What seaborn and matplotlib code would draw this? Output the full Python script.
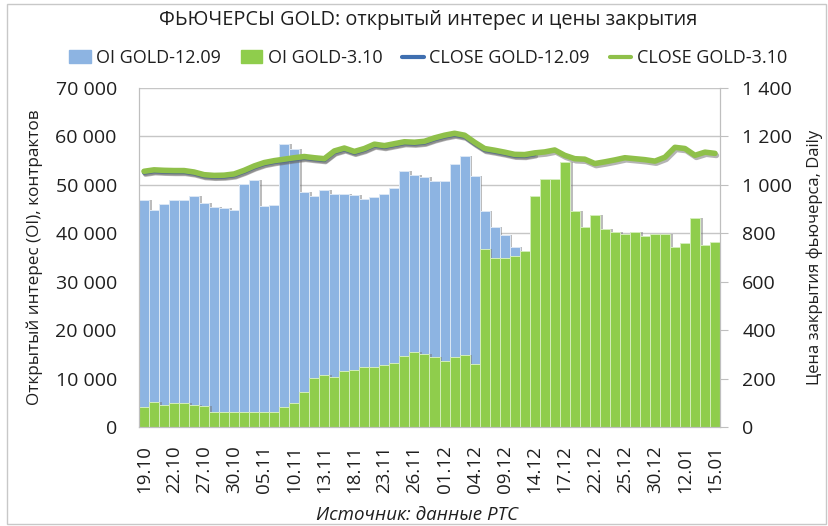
import numpy as np
import pandas as pd
import matplotlib
matplotlib.use("Agg")
import matplotlib.pyplot as plt
import matplotlib.patheffects as pe
from matplotlib.patches import Rectangle
from matplotlib.ticker import FuncFormatter, MultipleLocator
import seaborn as sns

# trading days shown on the x axis
dates = [
    "19.10", "20.10", "21.10", "22.10", "23.10", "26.10", "27.10", "28.10", "29.10", "30.10",
    "02.11", "03.11", "05.11", "06.11", "09.11", "10.11", "11.11", "12.11", "13.11", "16.11",
    "17.11", "18.11", "19.11", "20.11", "23.11", "24.11", "25.11", "26.11", "27.11", "30.11",
    "01.12", "02.12", "03.12", "04.12", "07.12", "08.12", "09.12", "10.12", "11.12", "14.12",
    "15.12", "16.12", "17.12", "18.12", "21.12", "22.12", "23.12", "24.12", "25.12", "28.12",
    "29.12", "30.12", "31.12", "11.01", "12.01", "13.01", "14.01", "15.01",
]

# open interest, contracts
oi_1209 = [
    46900, 44800, 46100, 46900, 46800, 47700, 46200, 45400, 45200, 44800,
    50100, 50900, 45700, 45900, 58500, 57400, 48600, 47800, 49000, 48100,
    48100, 48000, 47000, 47400, 48100, 49400, 52800, 52100, 51600, 50700,
    50700, 54300, 56000, 51900, 44700, 41300, 39700, 37100, np.nan, np.nan,
    np.nan, np.nan, np.nan, np.nan, np.nan, np.nan, np.nan, np.nan, np.nan, np.nan,
    np.nan, np.nan, np.nan, np.nan, np.nan, np.nan, np.nan, np.nan,
]
oi_310 = [
    4100, 5200, 4500, 5000, 5000, 4500, 4300, 3000, 3000, 3000,
    3200, 3200, 3200, 3200, 4100, 5000, 7200, 10100, 10700, 10300,
    11600, 11700, 12400, 12300, 12700, 13200, 14600, 15500, 15100, 14400,
    13600, 14400, 14800, 13100, 36800, 34900, 34900, 35300, 36400, 47600,
    51200, 51200, 54800, 44600, 41300, 43700, 40900, 40200, 39900, 40200,
    39500, 39900, 39900, 37100, 38000, 43200, 37500, 38200,
]

# daily close prices
close_1209 = [
    1050, 1056, 1054, 1053, 1053, 1047, 1036, 1033, 1034, 1039,
    1054, 1072, 1086, 1094, 1100, 1106, 1111, 1106, 1102, 1134,
    1146, 1132, 1144, 1162, 1156, 1164, 1172, 1170, 1174, 1188,
    1199, 1207, 1199, 1170, 1144, 1137, 1129, 1120, 1119, 1126,
    np.nan, np.nan, np.nan, np.nan, np.nan, np.nan, np.nan, np.nan, np.nan, np.nan,
    np.nan, np.nan, np.nan, np.nan, np.nan, np.nan, np.nan, np.nan,
]
close_310 = [
    1056, 1062, 1060, 1059, 1059, 1053, 1042, 1039, 1040, 1045,
    1060, 1078, 1092, 1100, 1106, 1112, 1117, 1112, 1108, 1140,
    1152, 1138, 1150, 1168, 1162, 1170, 1178, 1176, 1180, 1194,
    1205, 1213, 1205, 1176, 1150, 1143, 1135, 1126, 1125, 1132,
    1136, 1144, 1122, 1108, 1106, 1088, 1095, 1103, 1112, 1108,
    1104, 1098, 1114, 1155, 1150, 1122, 1135, 1130,
]

df = pd.DataFrame({
    "pos": np.arange(len(dates)),
    "date": dates,
    "oi_1209": oi_1209,
    "oi_310": oi_310,
    "close_1209": close_1209,
    "close_310": close_310,
})

sns.set_style("white")
plt.rcParams["font.family"] = ["Open Sans", "DejaVu Sans"]
text_color = "#1f1f1f"

W, H = 829, 526
fig = plt.figure(figsize=(W / 100, H / 100), dpi=100)
fig.patches.append(Rectangle((7 / W, 2 / H), 819 / W, 520 / H, transform=fig.transFigure,
                             fill=False, edgecolor="#c8c8c8", linewidth=1))
ax = fig.add_axes([139 / W, 1 - 427 / H, (720 - 139) / W, (427 - 88) / H])

blue_bar = "#8db4e2"
green_bar = "#8fcd4c"
blue_line = "#3f6fb0"
green_line = "#8fc04a"

# Excel-style shadow to the right of each bar
bar_shadow = [pe.SimplePatchShadow(offset=(2, 0), shadow_rgbFace="#7a7a7a", alpha=0.5), pe.Normal()]
sns.barplot(data=df, x="pos", y="oi_1209", native_scale=True, width=1.0, color=blue_bar,
            saturation=1, errorbar=None, edgecolor="#dce8f6", linewidth=0.7, ax=ax)
n_blue = len(ax.patches)
for p in ax.patches:
    p.set_path_effects(bar_shadow)
sns.barplot(data=df, x="pos", y="oi_310", native_scale=True, width=1.0, color=green_bar,
            saturation=1, errorbar=None, edgecolor="#d4eebb", linewidth=0.7, ax=ax)
for p in ax.patches[n_blue:]:
    p.set_path_effects(bar_shadow)

fmt = FuncFormatter(lambda v, _: f"{int(v):,}".replace(",", " "))

ax.set_xlim(-0.5, len(dates) - 0.5)
ax.set_ylim(0, 70000)
ax.yaxis.set_major_locator(MultipleLocator(10000))
ax.yaxis.set_major_formatter(fmt)
ax.grid(axis="y", color="#c6c6c6", linewidth=1)
ax.set_axisbelow(True)
tick_pos = list(range(0, len(dates), 3))
ax.set_xticks(tick_pos)
ax.set_xticklabels([dates[i] for i in tick_pos], rotation=90, fontsize=13.5, color=text_color)
ax.tick_params(axis="y", labelsize=14, colors=text_color, length=0, pad=16)
ax.tick_params(axis="x", length=0, pad=13)
ax.set_xlabel("")
ax.set_ylabel("Открытый интерес (OI), контрактов", fontsize=12.3, color=text_color, labelpad=9)
ax.spines["top"].set_visible(False)
for s in ["left", "bottom", "right"]:
    ax.spines[s].set_color("#bfbfbf")

ax2 = ax.twinx()
line_shadow = [pe.SimpleLineShadow(offset=(1, -1.5), shadow_color="#6a6a6a", alpha=0.5), pe.Normal()]
sns.lineplot(data=df, x="pos", y="close_1209", color=blue_line, linewidth=3, ax=ax2,
             path_effects=line_shadow)
sns.lineplot(data=df, x="pos", y="close_310", color=green_line, linewidth=4, ax=ax2,
             path_effects=line_shadow)
ax2.set_ylim(0, 1400)
ax2.yaxis.set_major_locator(MultipleLocator(200))
ax2.yaxis.set_major_formatter(fmt)
ax2.tick_params(axis="y", labelsize=14, colors=text_color, length=6, color="#bfbfbf", pad=10)
ax2.set_ylabel("Цена закрытия фьючерса, Daily", fontsize=12, color=text_color, labelpad=10)
ax2.set_xlabel("")
ax2.set_xlim(-0.5, len(dates) - 0.5)
ax2.spines["top"].set_visible(False)
for s in ["left", "bottom", "right"]:
    ax2.spines[s].set_color("#bfbfbf")

fig.text(428 / W, 1 - 20 / H, "ФЬЮЧЕРСЫ GOLD: открытый интерес и цены закрытия",
         ha="center", va="center", fontsize=14.3, color=text_color)

handles = [
    plt.Rectangle((0, 0), 1, 1, color=blue_bar),
    plt.Rectangle((0, 0), 1, 1, color=green_bar),
    plt.Line2D([], [], color=blue_line, linewidth=3),
    plt.Line2D([], [], color=green_line, linewidth=3),
]
labels = ["OI GOLD-12.09", "OI GOLD-3.10", "CLOSE GOLD-12.09", "CLOSE GOLD-3.10"]
fig.legend(handles, labels, loc="center", bbox_to_anchor=(428 / W, 1 - 58 / H), ncol=4,
           frameon=False, fontsize=13, handlelength=1.2, handletextpad=0.3,
           columnspacing=1.1, labelcolor=text_color)

fig.text(417 / W, 1 - 515 / H, "Источник: данные РТС", ha="center", va="center",
         fontsize=13.5, style="italic", color=text_color)

fig.savefig("out.png", dpi=100)
